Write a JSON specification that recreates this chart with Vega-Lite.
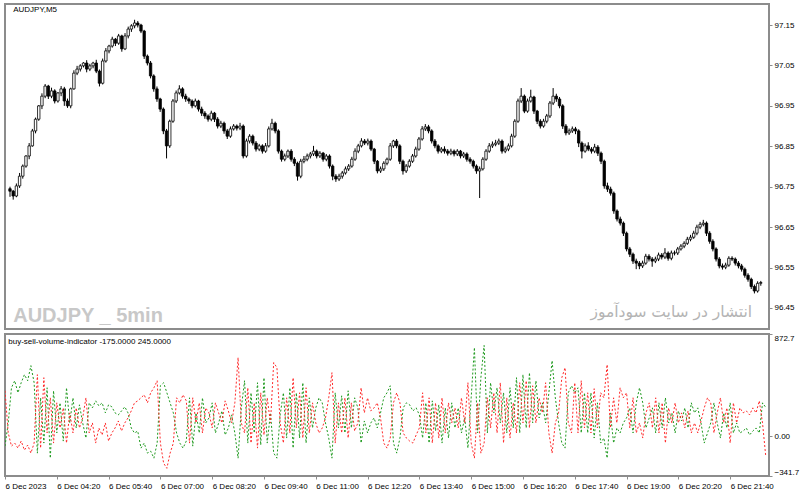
{
"$schema":"https://vega.github.io/schema/vega-lite/v6.json",
"padding":{"left":3,"top":3,"right":0,"bottom":0},
"background":"white",
"spacing":2,
"config":{"view":{"stroke":"#8c8c8c","strokeWidth":2},"axis":{"labelFont":"Liberation Sans","labelFontSize":8,"labelColor":"#000000","tickColor":"#8c8c8c","domainColor":"#8c8c8c","grid":false,"title":null}},
"data":{"values":[
{"i":0,"o":96.745,"h":96.750,"l":96.725,"c":96.739,"b":-86,"s":387},
{"i":1,"o":96.739,"h":96.742,"l":96.718,"c":96.727,"b":112,"s":26},
{"i":2,"o":96.727,"h":96.758,"l":96.724,"c":96.752,"b":413,"s":-86},
{"i":3,"o":96.752,"h":96.784,"l":96.747,"c":96.776,"b":473,"s":-60},
{"i":4,"o":96.776,"h":96.805,"l":96.770,"c":96.801,"b":370,"s":-103},
{"i":5,"o":96.801,"h":96.828,"l":96.797,"c":96.826,"b":456,"s":-43},
{"i":6,"o":96.826,"h":96.858,"l":96.818,"c":96.851,"b":525,"s":-120},
{"i":7,"o":96.851,"h":96.893,"l":96.849,"c":96.888,"b":473,"s":-77},
{"i":8,"o":96.888,"h":96.921,"l":96.882,"c":96.917,"b":602,"s":-146},
{"i":9,"o":96.917,"h":96.952,"l":96.913,"c":96.950,"b":456,"s":-60},
{"i":10,"o":96.950,"h":96.981,"l":96.942,"c":96.974,"b":-146,"s":525},
{"i":11,"o":96.974,"h":97.004,"l":96.969,"c":96.999,"b":327,"s":-103},
{"i":12,"o":96.999,"h":97.002,"l":96.967,"c":96.974,"b":-60,"s":499},
{"i":13,"o":96.974,"h":96.995,"l":96.969,"c":96.987,"b":413,"s":26},
{"i":14,"o":96.987,"h":96.991,"l":96.956,"c":96.962,"b":-189,"s":327},
{"i":15,"o":96.962,"h":96.984,"l":96.958,"c":96.982,"b":387,"s":-60},
{"i":16,"o":96.982,"h":96.999,"l":96.974,"c":96.992,"b":26,"s":284},
{"i":17,"o":96.992,"h":96.997,"l":96.950,"c":96.962,"b":284,"s":69},
{"i":18,"o":96.962,"h":96.968,"l":96.945,"c":96.950,"b":-43,"s":241},
{"i":19,"o":96.950,"h":96.995,"l":96.944,"c":96.992,"b":413,"s":-60},
{"i":20,"o":96.992,"h":97.038,"l":96.990,"c":97.031,"b":112,"s":198},
{"i":21,"o":97.031,"h":97.049,"l":97.026,"c":97.041,"b":327,"s":26},
{"i":22,"o":97.041,"h":97.053,"l":97.035,"c":97.049,"b":69,"s":241},
{"i":23,"o":97.049,"h":97.058,"l":97.045,"c":97.056,"b":267,"s":69},
{"i":24,"o":97.056,"h":97.063,"l":97.033,"c":97.041,"b":112,"s":155},
{"i":25,"o":97.041,"h":97.054,"l":97.036,"c":97.049,"b":-17,"s":327},
{"i":26,"o":97.049,"h":97.059,"l":97.043,"c":97.056,"b":284,"s":26},
{"i":27,"o":97.056,"h":97.064,"l":97.031,"c":97.036,"b":241,"s":112},
{"i":28,"o":97.036,"h":97.040,"l":96.998,"c":97.006,"b":301,"s":-60},
{"i":29,"o":97.006,"h":97.067,"l":97.003,"c":97.061,"b":258,"s":69},
{"i":30,"o":97.061,"h":97.093,"l":97.057,"c":97.086,"b":284,"s":9},
{"i":31,"o":97.086,"h":97.101,"l":97.080,"c":97.098,"b":198,"s":112},
{"i":32,"o":97.098,"h":97.121,"l":97.094,"c":97.115,"b":267,"s":-43},
{"i":33,"o":97.115,"h":97.118,"l":97.098,"c":97.105,"b":250,"s":26},
{"i":34,"o":97.105,"h":97.128,"l":97.101,"c":97.123,"b":198,"s":69},
{"i":35,"o":97.123,"h":97.126,"l":97.084,"c":97.091,"b":181,"s":129},
{"i":36,"o":97.091,"h":97.130,"l":97.088,"c":97.123,"b":215,"s":43},
{"i":37,"o":97.123,"h":97.146,"l":97.117,"c":97.140,"b":250,"s":112},
{"i":38,"o":97.140,"h":97.152,"l":97.133,"c":97.148,"b":198,"s":155},
{"i":39,"o":97.148,"h":97.163,"l":97.142,"c":97.155,"b":69,"s":215},
{"i":40,"o":97.155,"h":97.160,"l":97.144,"c":97.150,"b":26,"s":284},
{"i":41,"o":97.150,"h":97.153,"l":97.130,"c":97.135,"b":43,"s":301},
{"i":42,"o":97.135,"h":97.138,"l":97.066,"c":97.073,"b":-103,"s":327},
{"i":43,"o":97.073,"h":97.077,"l":97.050,"c":97.056,"b":-60,"s":353},
{"i":44,"o":97.056,"h":97.061,"l":97.018,"c":97.024,"b":-146,"s":284},
{"i":45,"o":97.024,"h":97.028,"l":96.985,"c":96.992,"b":-129,"s":370},
{"i":46,"o":96.992,"h":96.998,"l":96.960,"c":96.967,"b":-189,"s":413},
{"i":47,"o":96.967,"h":96.970,"l":96.935,"c":96.942,"b":-60,"s":473},
{"i":48,"o":96.942,"h":96.946,"l":96.880,"c":96.888,"b":430,"s":-60},
{"i":49,"o":96.888,"h":96.893,"l":96.820,"c":96.851,"b":456,"s":-232},
{"i":50,"o":96.851,"h":96.916,"l":96.846,"c":96.912,"b":370,"s":-276},
{"i":51,"o":96.912,"h":96.967,"l":96.908,"c":96.962,"b":284,"s":-146},
{"i":52,"o":96.962,"h":96.988,"l":96.957,"c":96.982,"b":198,"s":-60},
{"i":53,"o":96.982,"h":97.001,"l":96.978,"c":96.992,"b":26,"s":327},
{"i":54,"o":96.992,"h":96.996,"l":96.968,"c":96.974,"b":-60,"s":284},
{"i":55,"o":96.974,"h":96.980,"l":96.960,"c":96.967,"b":-103,"s":353},
{"i":56,"o":96.967,"h":96.971,"l":96.955,"c":96.962,"b":-43,"s":301},
{"i":57,"o":96.962,"h":96.966,"l":96.944,"c":96.950,"b":327,"s":-60},
{"i":58,"o":96.950,"h":96.968,"l":96.946,"c":96.962,"b":-86,"s":327},
{"i":59,"o":96.962,"h":96.965,"l":96.936,"c":96.942,"b":198,"s":112},
{"i":60,"o":96.942,"h":96.948,"l":96.925,"c":96.932,"b":26,"s":284},
{"i":61,"o":96.932,"h":96.937,"l":96.918,"c":96.925,"b":327,"s":26},
{"i":62,"o":96.925,"h":96.929,"l":96.911,"c":96.917,"b":112,"s":241},
{"i":63,"o":96.917,"h":96.938,"l":96.912,"c":96.932,"b":155,"s":198},
{"i":64,"o":96.932,"h":96.935,"l":96.910,"c":96.917,"b":284,"s":69},
{"i":65,"o":96.917,"h":96.922,"l":96.894,"c":96.900,"b":26,"s":284},
{"i":66,"o":96.900,"h":96.913,"l":96.895,"c":96.907,"b":112,"s":198},
{"i":67,"o":96.907,"h":96.911,"l":96.881,"c":96.888,"b":215,"s":112},
{"i":68,"o":96.888,"h":96.893,"l":96.868,"c":96.875,"b":9,"s":301},
{"i":69,"o":96.875,"h":96.899,"l":96.871,"c":96.893,"b":69,"s":215},
{"i":70,"o":96.893,"h":96.905,"l":96.889,"c":96.900,"b":181,"s":112},
{"i":71,"o":96.900,"h":96.904,"l":96.889,"c":96.895,"b":26,"s":284},
{"i":72,"o":96.895,"h":96.908,"l":96.890,"c":96.900,"b":-189,"s":671},
{"i":73,"o":96.900,"h":96.904,"l":96.820,"c":96.826,"b":241,"s":112},
{"i":74,"o":96.826,"h":96.869,"l":96.822,"c":96.863,"b":473,"s":26},
{"i":75,"o":96.863,"h":96.880,"l":96.857,"c":96.875,"b":-60,"s":413},
{"i":76,"o":96.875,"h":96.879,"l":96.852,"c":96.858,"b":370,"s":-60},
{"i":77,"o":96.858,"h":96.863,"l":96.837,"c":96.843,"b":26,"s":284},
{"i":78,"o":96.843,"h":96.856,"l":96.838,"c":96.851,"b":456,"s":-103},
{"i":79,"o":96.851,"h":96.855,"l":96.832,"c":96.838,"b":-77,"s":370},
{"i":80,"o":96.838,"h":96.858,"l":96.834,"c":96.851,"b":499,"s":9},
{"i":81,"o":96.851,"h":96.899,"l":96.847,"c":96.893,"b":-60,"s":327},
{"i":82,"o":96.893,"h":96.918,"l":96.889,"c":96.907,"b":198,"s":112},
{"i":83,"o":96.907,"h":96.911,"l":96.882,"c":96.888,"b":-146,"s":628},
{"i":84,"o":96.888,"h":96.892,"l":96.832,"c":96.838,"b":-189,"s":585},
{"i":85,"o":96.838,"h":96.842,"l":96.812,"c":96.818,"b":181,"s":112},
{"i":86,"o":96.818,"h":96.832,"l":96.813,"c":96.826,"b":370,"s":-60},
{"i":87,"o":96.826,"h":96.842,"l":96.821,"c":96.838,"b":-17,"s":327},
{"i":88,"o":96.838,"h":96.843,"l":96.812,"c":96.818,"b":413,"s":26},
{"i":89,"o":96.818,"h":96.823,"l":96.801,"c":96.808,"b":-103,"s":499},
{"i":90,"o":96.808,"h":96.812,"l":96.765,"c":96.776,"b":370,"s":69},
{"i":91,"o":96.776,"h":96.819,"l":96.771,"c":96.813,"b":-17,"s":370},
{"i":92,"o":96.813,"h":96.826,"l":96.808,"c":96.818,"b":456,"s":-17},
{"i":93,"o":96.818,"h":96.832,"l":96.813,"c":96.826,"b":-60,"s":413},
{"i":94,"o":96.826,"h":96.836,"l":96.820,"c":96.831,"b":327,"s":26},
{"i":95,"o":96.831,"h":96.851,"l":96.826,"c":96.838,"b":69,"s":284},
{"i":96,"o":96.838,"h":96.842,"l":96.820,"c":96.826,"b":241,"s":112},
{"i":97,"o":96.826,"h":96.838,"l":96.821,"c":96.833,"b":327,"s":26},
{"i":98,"o":96.833,"h":96.836,"l":96.812,"c":96.818,"b":284,"s":69},
{"i":99,"o":96.818,"h":96.831,"l":96.813,"c":96.826,"b":112,"s":155},
{"i":100,"o":96.826,"h":96.830,"l":96.795,"c":96.801,"b":-17,"s":327},
{"i":101,"o":96.801,"h":96.805,"l":96.766,"c":96.776,"b":-189,"s":542},
{"i":102,"o":96.776,"h":96.781,"l":96.762,"c":96.769,"b":370,"s":-60},
{"i":103,"o":96.769,"h":96.782,"l":96.764,"c":96.776,"b":69,"s":284},
{"i":104,"o":96.776,"h":96.789,"l":96.770,"c":96.784,"b":344,"s":26},
{"i":105,"o":96.784,"h":96.800,"l":96.780,"c":96.794,"b":26,"s":327},
{"i":106,"o":96.794,"h":96.806,"l":96.789,"c":96.801,"b":387,"s":-17},
{"i":107,"o":96.801,"h":96.824,"l":96.797,"c":96.818,"b":69,"s":284},
{"i":108,"o":96.818,"h":96.845,"l":96.814,"c":96.838,"b":327,"s":43},
{"i":109,"o":96.838,"h":96.856,"l":96.833,"c":96.851,"b":241,"s":112},
{"i":110,"o":96.851,"h":96.870,"l":96.847,"c":96.863,"b":-60,"s":413},
{"i":111,"o":96.863,"h":96.868,"l":96.853,"c":96.858,"b":129,"s":198},
{"i":112,"o":96.858,"h":96.869,"l":96.852,"c":96.863,"b":26,"s":327},
{"i":113,"o":96.863,"h":96.867,"l":96.838,"c":96.843,"b":112,"s":215},
{"i":114,"o":96.843,"h":96.846,"l":96.806,"c":96.813,"b":155,"s":241},
{"i":115,"o":96.813,"h":96.816,"l":96.783,"c":96.789,"b":69,"s":284},
{"i":116,"o":96.789,"h":96.800,"l":96.784,"c":96.794,"b":198,"s":155},
{"i":117,"o":96.794,"h":96.813,"l":96.789,"c":96.808,"b":327,"s":-60},
{"i":118,"o":96.808,"h":96.822,"l":96.803,"c":96.818,"b":370,"s":-103},
{"i":119,"o":96.818,"h":96.858,"l":96.814,"c":96.851,"b":430,"s":-17},
{"i":120,"o":96.851,"h":96.866,"l":96.846,"c":96.863,"b":-60,"s":284},
{"i":121,"o":96.863,"h":96.868,"l":96.845,"c":96.851,"b":-146,"s":370},
{"i":122,"o":96.851,"h":96.855,"l":96.806,"c":96.813,"b":-17,"s":284},
{"i":123,"o":96.813,"h":96.817,"l":96.780,"c":96.789,"b":241,"s":26},
{"i":124,"o":96.789,"h":96.806,"l":96.784,"c":96.801,"b":284,"s":-17},
{"i":125,"o":96.801,"h":96.818,"l":96.797,"c":96.813,"b":267,"s":-43},
{"i":126,"o":96.813,"h":96.831,"l":96.809,"c":96.826,"b":215,"s":-60},
{"i":127,"o":96.826,"h":96.849,"l":96.822,"c":96.843,"b":241,"s":9},
{"i":128,"o":96.843,"h":96.873,"l":96.839,"c":96.868,"b":181,"s":69},
{"i":129,"o":96.868,"h":96.900,"l":96.864,"c":96.893,"b":-17,"s":370},
{"i":130,"o":96.893,"h":96.905,"l":96.888,"c":96.898,"b":284,"s":26},
{"i":131,"o":96.898,"h":96.903,"l":96.882,"c":96.888,"b":-60,"s":327},
{"i":132,"o":96.888,"h":96.892,"l":96.857,"c":96.863,"b":301,"s":-60},
{"i":133,"o":96.863,"h":96.868,"l":96.845,"c":96.851,"b":43,"s":284},
{"i":134,"o":96.851,"h":96.855,"l":96.832,"c":96.838,"b":267,"s":-17},
{"i":135,"o":96.838,"h":96.848,"l":96.833,"c":96.843,"b":-60,"s":327},
{"i":136,"o":96.843,"h":96.850,"l":96.832,"c":96.838,"b":241,"s":26},
{"i":137,"o":96.838,"h":96.843,"l":96.827,"c":96.833,"b":-17,"s":284},
{"i":138,"o":96.833,"h":96.844,"l":96.828,"c":96.838,"b":284,"s":112},
{"i":139,"o":96.838,"h":96.842,"l":96.825,"c":96.831,"b":69,"s":241},
{"i":140,"o":96.831,"h":96.843,"l":96.826,"c":96.838,"b":241,"s":69},
{"i":141,"o":96.838,"h":96.841,"l":96.820,"c":96.826,"b":26,"s":327},
{"i":142,"o":96.826,"h":96.836,"l":96.821,"c":96.831,"b":155,"s":112},
{"i":143,"o":96.831,"h":96.835,"l":96.812,"c":96.818,"b":-103,"s":456},
{"i":144,"o":96.818,"h":96.823,"l":96.807,"c":96.813,"b":327,"s":-60},
{"i":145,"o":96.813,"h":96.817,"l":96.795,"c":96.801,"b":757,"s":-189},
{"i":146,"o":96.801,"h":96.805,"l":96.782,"c":96.789,"b":26,"s":284},
{"i":147,"o":96.789,"h":96.800,"l":96.722,"c":96.794,"b":499,"s":-146},
{"i":148,"o":96.794,"h":96.823,"l":96.790,"c":96.818,"b":775,"s":-60},
{"i":149,"o":96.818,"h":96.843,"l":96.814,"c":96.838,"b":26,"s":327},
{"i":150,"o":96.838,"h":96.858,"l":96.834,"c":96.851,"b":456,"s":69},
{"i":151,"o":96.851,"h":96.862,"l":96.846,"c":96.855,"b":198,"s":370},
{"i":152,"o":96.855,"h":96.866,"l":96.850,"c":96.858,"b":413,"s":26},
{"i":153,"o":96.858,"h":96.869,"l":96.853,"c":96.863,"b":112,"s":456},
{"i":154,"o":96.863,"h":96.867,"l":96.832,"c":96.838,"b":370,"s":-60},
{"i":155,"o":96.838,"h":96.849,"l":96.833,"c":96.843,"b":26,"s":327},
{"i":156,"o":96.843,"h":96.857,"l":96.838,"c":96.851,"b":413,"s":-17},
{"i":157,"o":96.851,"h":96.881,"l":96.847,"c":96.875,"b":69,"s":284},
{"i":158,"o":96.875,"h":96.917,"l":96.871,"c":96.912,"b":499,"s":26},
{"i":159,"o":96.912,"h":96.968,"l":96.908,"c":96.962,"b":26,"s":456},
{"i":160,"o":96.962,"h":96.994,"l":96.957,"c":96.974,"b":525,"s":112},
{"i":161,"o":96.974,"h":96.978,"l":96.932,"c":96.937,"b":69,"s":473},
{"i":162,"o":96.937,"h":96.968,"l":96.933,"c":96.962,"b":542,"s":69},
{"i":163,"o":96.962,"h":96.990,"l":96.958,"c":96.972,"b":112,"s":430},
{"i":164,"o":96.972,"h":96.975,"l":96.930,"c":96.937,"b":473,"s":112},
{"i":165,"o":96.937,"h":96.940,"l":96.905,"c":96.912,"b":155,"s":327},
{"i":166,"o":96.912,"h":96.917,"l":96.894,"c":96.900,"b":284,"s":198},
{"i":167,"o":96.900,"h":96.918,"l":96.896,"c":96.912,"b":112,"s":456},
{"i":168,"o":96.912,"h":96.930,"l":96.907,"c":96.925,"b":370,"s":26},
{"i":169,"o":96.925,"h":96.962,"l":96.920,"c":96.957,"b":645,"s":-146},
{"i":170,"o":96.957,"h":96.994,"l":96.952,"c":96.974,"b":327,"s":112},
{"i":171,"o":96.974,"h":96.980,"l":96.960,"c":96.967,"b":112,"s":198},
{"i":172,"o":96.967,"h":96.972,"l":96.944,"c":96.950,"b":-60,"s":499},
{"i":173,"o":96.950,"h":96.954,"l":96.893,"c":96.900,"b":-103,"s":585},
{"i":174,"o":96.900,"h":96.905,"l":96.877,"c":96.883,"b":370,"s":112},
{"i":175,"o":96.883,"h":96.894,"l":96.878,"c":96.888,"b":430,"s":26},
{"i":176,"o":96.888,"h":96.899,"l":96.883,"c":96.893,"b":370,"s":456},
{"i":177,"o":96.893,"h":96.898,"l":96.880,"c":96.888,"b":413,"s":26},
{"i":178,"o":96.888,"h":96.892,"l":96.848,"c":96.858,"b":26,"s":473},
{"i":179,"o":96.858,"h":96.862,"l":96.820,"c":96.838,"b":370,"s":69},
{"i":180,"o":96.838,"h":96.857,"l":96.834,"c":96.851,"b":26,"s":370},
{"i":181,"o":96.851,"h":96.860,"l":96.838,"c":96.843,"b":370,"s":26},
{"i":182,"o":96.843,"h":96.848,"l":96.832,"c":96.838,"b":-17,"s":405},
{"i":183,"o":96.838,"h":96.856,"l":96.833,"c":96.848,"b":284,"s":69},
{"i":184,"o":96.848,"h":96.853,"l":96.826,"c":96.833,"b":-60,"s":370},
{"i":185,"o":96.833,"h":96.837,"l":96.806,"c":96.813,"b":-17,"s":327},
{"i":186,"o":96.813,"h":96.817,"l":96.745,"c":96.752,"b":-189,"s":611},
{"i":187,"o":96.752,"h":96.760,"l":96.737,"c":96.744,"b":198,"s":69},
{"i":188,"o":96.744,"h":96.750,"l":96.728,"c":96.734,"b":-60,"s":327},
{"i":189,"o":96.734,"h":96.738,"l":96.683,"c":96.690,"b":69,"s":112},
{"i":190,"o":96.690,"h":96.694,"l":96.664,"c":96.670,"b":26,"s":413},
{"i":191,"o":96.670,"h":96.676,"l":96.654,"c":96.660,"b":112,"s":327},
{"i":192,"o":96.660,"h":96.664,"l":96.628,"c":96.635,"b":155,"s":370},
{"i":193,"o":96.635,"h":96.639,"l":96.590,"c":96.596,"b":241,"s":69},
{"i":194,"o":96.596,"h":96.601,"l":96.576,"c":96.583,"b":26,"s":327},
{"i":195,"o":96.583,"h":96.587,"l":96.559,"c":96.566,"b":284,"s":26},
{"i":196,"o":96.566,"h":96.572,"l":96.546,"c":96.561,"b":413,"s":112},
{"i":197,"o":96.561,"h":96.566,"l":96.546,"c":96.554,"b":284,"s":-17},
{"i":198,"o":96.554,"h":96.567,"l":96.549,"c":96.561,"b":69,"s":198},
{"i":199,"o":96.561,"h":96.584,"l":96.557,"c":96.578,"b":155,"s":284},
{"i":200,"o":96.578,"h":96.583,"l":96.565,"c":96.571,"b":241,"s":69},
{"i":201,"o":96.571,"h":96.576,"l":96.552,"c":96.566,"b":26,"s":327},
{"i":202,"o":96.566,"h":96.577,"l":96.561,"c":96.571,"b":284,"s":26},
{"i":203,"o":96.571,"h":96.587,"l":96.566,"c":96.581,"b":69,"s":284},
{"i":204,"o":96.581,"h":96.586,"l":96.570,"c":96.576,"b":327,"s":-60},
{"i":205,"o":96.576,"h":96.598,"l":96.571,"c":96.586,"b":112,"s":241},
{"i":206,"o":96.586,"h":96.590,"l":96.567,"c":96.573,"b":198,"s":112},
{"i":207,"o":96.573,"h":96.592,"l":96.568,"c":96.586,"b":26,"s":284},
{"i":208,"o":96.586,"h":96.592,"l":96.580,"c":96.586,"b":215,"s":112},
{"i":209,"o":96.586,"h":96.601,"l":96.581,"c":96.596,"b":129,"s":198},
{"i":210,"o":96.596,"h":96.608,"l":96.592,"c":96.603,"b":241,"s":69},
{"i":211,"o":96.603,"h":96.615,"l":96.598,"c":96.610,"b":69,"s":215},
{"i":212,"o":96.610,"h":96.626,"l":96.606,"c":96.620,"b":284,"s":26},
{"i":213,"o":96.620,"h":96.631,"l":96.615,"c":96.625,"b":198,"s":112},
{"i":214,"o":96.625,"h":96.641,"l":96.621,"c":96.635,"b":241,"s":26},
{"i":215,"o":96.635,"h":96.656,"l":96.630,"c":96.650,"b":112,"s":129},
{"i":216,"o":96.650,"h":96.663,"l":96.645,"c":96.657,"b":-60,"s":241},
{"i":217,"o":96.657,"h":96.668,"l":96.652,"c":96.660,"b":26,"s":327},
{"i":218,"o":96.660,"h":96.664,"l":96.628,"c":96.635,"b":112,"s":284},
{"i":219,"o":96.635,"h":96.640,"l":96.609,"c":96.615,"b":284,"s":26},
{"i":220,"o":96.615,"h":96.620,"l":96.590,"c":96.596,"b":112,"s":198},
{"i":221,"o":96.596,"h":96.600,"l":96.565,"c":96.571,"b":-17,"s":327},
{"i":222,"o":96.571,"h":96.576,"l":96.548,"c":96.554,"b":198,"s":112},
{"i":223,"o":96.554,"h":96.560,"l":96.545,"c":96.551,"b":69,"s":241},
{"i":224,"o":96.551,"h":96.562,"l":96.546,"c":96.556,"b":284,"s":-60},
{"i":225,"o":96.556,"h":96.578,"l":96.552,"c":96.573,"b":26,"s":284},
{"i":226,"o":96.573,"h":96.578,"l":96.566,"c":96.571,"b":112,"s":112},
{"i":227,"o":96.571,"h":96.575,"l":96.555,"c":96.561,"b":26,"s":241},
{"i":228,"o":96.561,"h":96.566,"l":96.548,"c":96.554,"b":43,"s":198},
{"i":229,"o":96.554,"h":96.559,"l":96.540,"c":96.546,"b":69,"s":215},
{"i":230,"o":96.546,"h":96.550,"l":96.525,"c":96.531,"b":9,"s":181},
{"i":231,"o":96.531,"h":96.536,"l":96.515,"c":96.521,"b":43,"s":241},
{"i":232,"o":96.521,"h":96.525,"l":96.497,"c":96.503,"b":69,"s":198},
{"i":233,"o":96.503,"h":96.508,"l":96.486,"c":96.492,"b":26,"s":301},
{"i":234,"o":96.492,"h":96.516,"l":96.488,"c":96.511,"b":284,"s":112},
{"i":235,"o":96.511,"h":96.517,"l":96.505,"c":96.513,"b":245,"s":-175}
]},
"vconcat":[
{
"width":764,"height":325,
"layer":[
{"mark":{"type":"rule","color":"#000000","strokeWidth":1,"clip":true},
 "encoding":{
  "x":{"field":"i","type":"quantitative","scale":{"domain":[0,236],"nice":false,"zero":false},"axis":null},
  "y":{"field":"l","type":"quantitative","scale":{"domain":[96.398,97.202],"nice":false,"zero":false},
       "axis":{"orient":"right","values":[96.45,96.55,96.65,96.75,96.85,96.95,97.05,97.15],"format":".2f","tickSize":3,"labelPadding":2,"domain":false}},
  "y2":{"field":"h"}}},
{"mark":{"type":"bar","width":2.4,"stroke":"#000000","strokeWidth":0.8,"clip":true},
 "encoding":{
  "x":{"field":"i","type":"quantitative","axis":null},
  "y":{"field":"o","type":"quantitative","axis":{"orient":"right","values":[96.45,96.55,96.65,96.75,96.85,96.95,97.05,97.15],"format":".2f","tickSize":3,"labelPadding":2,"domain":false}},
  "y2":{"field":"c"},
  "fill":{"condition":{"test":"datum.c >= datum.o","value":"#ffffff"},"value":"#000000"}}},
{"data":{"values":[{"t":"AUDJPY,M5"}]},
 "mark":{"type":"text","align":"left","baseline":"middle","font":"Liberation Sans","fontSize":8,"color":"#000000"},
 "encoding":{"x":{"datum":1,"type":"quantitative","axis":null},"y":{"datum":97.187,"type":"quantitative","axis":{"orient":"right","values":[96.45,96.55,96.65,96.75,96.85,96.95,97.05,97.15],"format":".2f","tickSize":3,"labelPadding":2,"domain":false}},"text":{"field":"t"}}},
{"data":{"values":[{"t":"AUDJPY _ 5min"}]},
 "mark":{"type":"text","align":"left","baseline":"alphabetic","font":"Liberation Sans","fontWeight":"bold","fontSize":20,"color":"#c8c8c8"},
 "encoding":{"x":{"datum":1,"type":"quantitative","axis":null},"y":{"datum":96.415,"type":"quantitative","axis":{"orient":"right","values":[96.45,96.55,96.65,96.75,96.85,96.95,97.05,97.15],"format":".2f","tickSize":3,"labelPadding":2,"domain":false}},"text":{"field":"t"}}},
{"data":{"values":[{"t":"انتشار در سایت سودآموز"}]},
 "mark":{"type":"text","align":"right","baseline":"alphabetic","font":"DejaVu Sans","fontSize":15.5,"color":"#b4b4b4"},
 "encoding":{"x":{"datum":232.3,"type":"quantitative","axis":null},"y":{"datum":96.427,"type":"quantitative","axis":{"orient":"right","values":[96.45,96.55,96.65,96.75,96.85,96.95,97.05,97.15],"format":".2f","tickSize":3,"labelPadding":2,"domain":false}},"text":{"field":"t"}}}
]},
{
"width":764,"height":142,
"layer":[
{"mark":{"type":"line","color":"#1f9a1f","strokeWidth":1,"strokeDash":[2,2],"clip":true},
 "encoding":{
  "x":{"field":"i","type":"quantitative","scale":{"domain":[0,236],"nice":false,"zero":false},
       "axis":{"values":[0,16,32,48,64,80,96,112,128,144,160,176,192,208,224],"labelAlign":"left","labelPadding":3,"tickSize":3,"domain":false,
               "labelExpr":"datum.value == 0 ? '6 Dec 2023' : timeFormat(datetime(2023, 11, 6, 3, 5*datum.value), '%-d %b %H:%M')"}},
  "y":{"field":"b","type":"quantitative","scale":{"domain":[-341.7,872.7],"nice":false,"zero":false},
       "axis":{"orient":"right","values":[-341.7,0,872.7],"labelFlush":true,"tickSize":3,"labelPadding":2,"domain":false,
               "labelExpr":"datum.value == 0 ? '0.00' : format(datum.value, '.1f')"}}}},
{"mark":{"type":"line","color":"#ff2a2a","strokeWidth":1,"strokeDash":[2,2],"clip":true},
 "encoding":{
  "x":{"field":"i","type":"quantitative",
       "axis":{"values":[0,16,32,48,64,80,96,112,128,144,160,176,192,208,224],"labelAlign":"left","labelPadding":3,"tickSize":3,"domain":false,
               "labelExpr":"datum.value == 0 ? '6 Dec 2023' : timeFormat(datetime(2023, 11, 6, 3, 5*datum.value), '%-d %b %H:%M')"}},
  "y":{"field":"s","type":"quantitative",
       "axis":{"orient":"right","values":[-341.7,0,872.7],"labelFlush":true,"tickSize":3,"labelPadding":2,"domain":false,
               "labelExpr":"datum.value == 0 ? '0.00' : format(datum.value, '.1f')"}}}},
{"data":{"values":[{"t":"buy-sell-volume-indicator -175.0000 245.0000"}]},
 "mark":{"type":"text","align":"left","baseline":"middle","font":"Liberation Sans","fontSize":8,"color":"#000000"},
 "encoding":{
  "x":{"datum":1,"type":"quantitative",
       "axis":{"values":[0,16,32,48,64,80,96,112,128,144,160,176,192,208,224],"labelAlign":"left","labelPadding":3,"tickSize":3,"domain":false,
               "labelExpr":"datum.value == 0 ? '6 Dec 2023' : timeFormat(datetime(2023, 11, 6, 3, 5*datum.value), '%-d %b %H:%M')"}},
  "y":{"datum":804,"type":"quantitative",
       "axis":{"orient":"right","values":[-341.7,0,872.7],"labelFlush":true,"tickSize":3,"labelPadding":2,"domain":false,
               "labelExpr":"datum.value == 0 ? '0.00' : format(datum.value, '.1f')"}},
  "text":{"field":"t"}}}
]}
]
}
